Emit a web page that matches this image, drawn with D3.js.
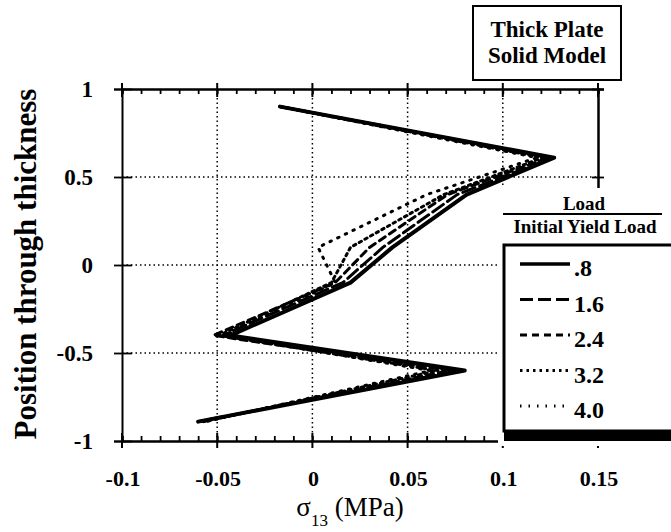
<!DOCTYPE html>
<html>
<head>
<meta charset="utf-8">
<script src="https://cdn.jsdelivr.net/npm/d3@7"></script>
<style>
  body { margin: 0; background: #fff; }
  svg text { font-family: "Liberation Serif", "DejaVu Serif", serif; font-weight: bold; fill: #000; }
</style>
</head>
<body>
<div class="chart"></div>
<script>
// position through thickness at which the stress was sampled
const positions = [0.9, 0.61, 0.4, 0.1, -0.1, -0.4, -0.6, -0.89];

// sigma_13 (MPa) for each load ratio
const load08 = [-0.017, 0.127, 0.081, 0.042, 0.020, -0.043, 0.080, -0.060];
const load16 = [-0.017, 0.126, 0.076, 0.037, 0.016, -0.047, 0.077, -0.060];
const load24 = [-0.017, 0.124, 0.071, 0.030, 0.012, -0.052, 0.072, -0.058];
const load32 = [-0.017, 0.121, 0.069, 0.020, 0.010, -0.049, 0.066, -0.057];
const load40 = [-0.017, 0.118, 0.060, 0.003, 0.012, -0.046, 0.062, -0.056];

const loadLabels = [".8", "1.6", "2.4", "3.2", "4.0"];
const loadSeries = [load08, load16, load24, load32, load40];
const dashes = [null, "13,5", "7,5", "2.5,4", "1.5,7"];

const xTicks = [-0.1, -0.05, 0, 0.05, 0.1, 0.15];
const xTickLabels = ["-0.1", "-0.05", "0", "0.05", "0.1", "0.15"];
const yTicks = [-1, -0.5, 0, 0.5, 1];
const yTickLabels = ["-1", "-0.5", "0", "0.5", "1"];

const W = 671, H = 532;
const svg = d3.select(".chart").append("svg")
              .attr("width", W)
              .attr("height", H);

const x = d3.scaleLinear().domain([-0.1, 0.15]).range([122, 598]);
const y = d3.scaleLinear().domain([-1, 1]).range([441, 89]);

// dotted grid
svg.append("g")
   .selectAll("line")
   .data([-0.05, 0, 0.05, 0.1])
   .join("line")
   .attr("x1", d => x(d)).attr("x2", d => x(d))
   .attr("y1", y(1)).attr("y2", y(-1))
   .attr("stroke", "#000").attr("stroke-width", 1.5)
   .attr("stroke-dasharray", "1.5,3");
svg.append("g")
   .selectAll("line")
   .data([0.5, 0, -0.5])
   .join("line")
   .attr("x1", x(-0.1)).attr("x2", x(0.15))
   .attr("y1", d => y(d)).attr("y2", d => y(d))
   .attr("stroke", "#000").attr("stroke-width", 1.5)
   .attr("stroke-dasharray", "1.5,3");

// axes: frame with inward minor ticks
const minor = d3.range(-0.1, 0.1501, 0.01);
const axBottom = svg.append("g").attr("transform", `translate(0,${y(-1)})`)
   .call(d3.axisBottom(x).tickValues(minor).tickSize(-5).tickFormat(""));
const axTop = svg.append("g").attr("transform", `translate(0,${y(1)})`)
   .call(d3.axisTop(x).tickValues(minor).tickSize(-5).tickFormat(""));
const axLeft = svg.append("g").attr("transform", `translate(${x(-0.1)},0)`)
   .call(d3.axisLeft(y).tickValues(yTicks).tickSize(8).tickFormat(""));
const axRight = svg.append("g").attr("transform", `translate(${x(0.15)},0)`)
   .call(d3.axisRight(y).tickValues(yTicks).tickSize(6).tickFormat(""));
[axBottom, axTop, axLeft, axRight].forEach(g => {
  g.select(".domain").attr("stroke", "#000").attr("stroke-width", 2.5);
  g.selectAll(".tick line").attr("stroke", "#000").attr("stroke-width", 1.8);
});
axLeft.select(".domain").attr("stroke-width", 2);
axLeft.selectAll(".tick line").attr("x2", 10).attr("x1", -8);
axRight.selectAll(".tick line").attr("x1", -6);

// major tick marks crossing top and bottom axes
svg.append("g").selectAll("line")
   .data(xTicks)
   .join("line")
   .attr("x1", d => x(d)).attr("x2", d => x(d))
   .attr("y1", y(-1) - 8).attr("y2", y(-1) + 7)
   .attr("stroke", "#000").attr("stroke-width", 2);
svg.append("g").selectAll("line")
   .data(xTicks)
   .join("line")
   .attr("x1", d => x(d)).attr("x2", d => x(d))
   .attr("y1", y(1) - 6).attr("y2", y(1) + 8)
   .attr("stroke", "#000").attr("stroke-width", 2);

// tick labels
svg.append("g").selectAll("text")
   .data(xTicks)
   .join("text")
   .attr("x", d => x(d) + 1).attr("y", 486)
   .attr("text-anchor", "middle")
   .style("font-size", "22px")
   .text((d, i) => xTickLabels[i]);
svg.append("g").selectAll("text")
   .data(yTicks)
   .join("text")
   .attr("x", 93).attr("y", d => y(d) + 8)
   .attr("text-anchor", "end")
   .style("font-size", "23px")
   .text((d, i) => yTickLabels[i]);

// axis titles
svg.append("text")
   .attr("transform", `translate(36,264) rotate(-90)`)
   .attr("text-anchor", "middle")
   .style("font-size", "31px")
   .text("Position through thickness");
const xl = svg.append("text")
   .attr("x", 350).attr("y", 516)
   .attr("text-anchor", "middle")
   .style("font-size", "27px")
   .style("font-weight", "normal");
xl.append("tspan").text("σ");
xl.append("tspan").attr("dy", 10).style("font-size", "17px").text("13");
xl.append("tspan").attr("dy", -10).text(" (MPa)");

// data lines
const line = d3.line().x(d => x(d[0])).y(d => y(d[1]));
svg.append("g")
   .selectAll("path")
   .data(loadSeries.slice().reverse())
   .join("path")
   .attr("d", d => line(d.map((v, i) => [v, positions[i]])))
   .attr("fill", "none")
   .attr("stroke", "#000")
   .attr("stroke-width", (d, i) => i === 4 ? 4 : 3)
   .attr("stroke-linejoin", "round")
   .attr("stroke-linecap", "round")
   .attr("stroke-dasharray", (d, i) => dashes[4 - i]);

// legend
const lg = svg.append("g");
lg.append("rect")
  .attr("x", 498).attr("y", 188).attr("width", W - 498).attr("height", 258)
  .attr("fill", "#fff");
lg.append("text").attr("x", 584).attr("y", 210)
  .attr("text-anchor", "middle").style("font-size", "19px").text("Load");
lg.append("line")
  .attr("x1", 503).attr("x2", 662).attr("y1", 214).attr("y2", 214)
  .attr("stroke", "#000").attr("stroke-width", 2);
lg.append("text").attr("x", 585).attr("y", 233)
  .attr("text-anchor", "middle").style("font-size", "19px").text("Initial Yield Load");
lg.append("rect")
  .attr("x", 504).attr("y", 245).attr("width", W - 502).attr("height", 186)
  .attr("fill", "#fff").attr("stroke", "#000").attr("stroke-width", 3);
lg.append("rect")
  .attr("x", 504).attr("y", 430).attr("width", W - 504).attr("height", 11)
  .attr("fill", "#000");
const rows = lg.selectAll("g.row")
  .data(loadLabels)
  .join("g")
  .attr("class", "row")
  .attr("transform", (d, i) => `translate(0,${264 + i * 35.5})`);
rows.append("line")
  .attr("x1", 520).attr("x2", 570).attr("y1", 0).attr("y2", 0)
  .attr("stroke", "#000")
  .attr("stroke-width", (d, i) => i === 0 ? 3.5 : 3)
  .attr("stroke-dasharray", (d, i) => dashes[i]);
rows.append("text")
  .attr("x", 574).attr("y", 12)
  .style("font-size", "24px")
  .text(d => d);

// title box
svg.append("rect")
   .attr("x", 473).attr("y", 6).attr("width", 148).attr("height", 74)
   .attr("fill", "#fff").attr("stroke", "#000").attr("stroke-width", 2);
svg.append("text").attr("x", 547).attr("y", 37)
   .attr("text-anchor", "middle").style("font-size", "23px").text("Thick Plate");
svg.append("text").attr("x", 547).attr("y", 63)
   .attr("text-anchor", "middle").style("font-size", "23px").text("Solid Model");
</script>
</body>
</html>
